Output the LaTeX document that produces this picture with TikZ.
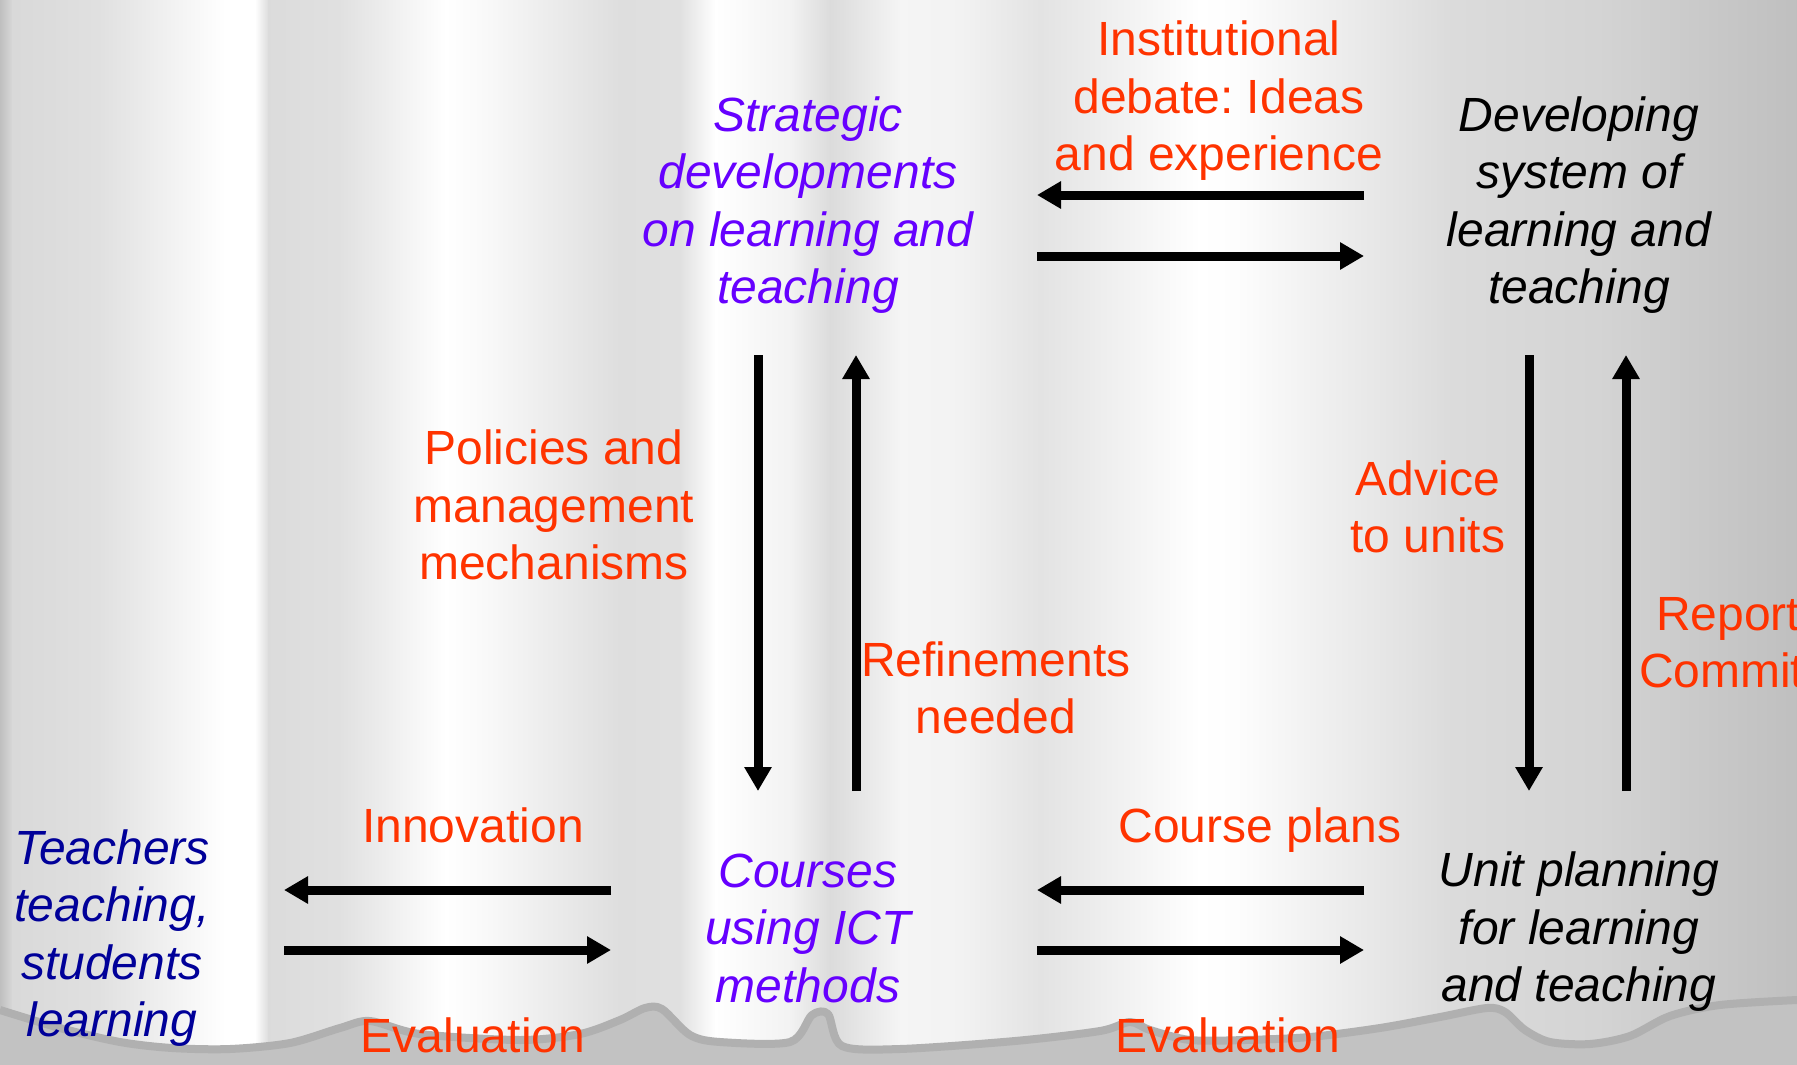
\documentclass[tikz,border=0pt]{standalone}
\usepackage{fontspec}
\setmainfont{Liberation Sans}
\usetikzlibrary{arrows.meta}
\definecolor{lblred}{HTML}{FF3300}
\definecolor{nodepurple}{HTML}{6600FF}
\definecolor{nodenavy}{HTML}{000099}
\definecolor{floorgray}{HTML}{C2C2C2}
\definecolor{flooredge}{HTML}{B0B0B0}
\begin{document}
\frenchspacing
\begin{tikzpicture}[x=1pt,y=-1pt,
  every node/.style={inner sep=0pt, outer sep=0pt, align=center, font=\fontsize{48}{57.5}\selectfont},
  concept/.style={font=\fontsize{48}{57.5}\selectfont\itshape},
  flowlabel/.style={text=lblred},
  flowarrow/.style={line width=9pt, -{Triangle[width=26pt,length=24pt]}}
]
\useasboundingbox (0,0) rectangle (1797,1065);
\clip (0,0) rectangle (1797,1065);
% curtain background
\foreach \xa/\ga/\xb/\gb in {0/75/12/85, 12/85/100/88, 100/88/225/100, 225/100/255/100, 255/100/268/86,
  268/86/340/88, 340/88/445/100, 445/100/480/98, 480/98/620/87, 620/87/680/88, 680/88/715/100,
  715/100/790/95, 790/95/830/86, 830/86/845/88, 845/88/900/96, 900/96/960/95, 960/95/1040/89,
  1040/89/1200/100, 1200/100/1240/99, 1240/99/1450/86, 1450/86/1600/83, 1600/83/1797/75}
  \shade[left color=white!\ga!black, right color=white!\gb!black] (\xa,0) rectangle (\xb+0.8,1065);
% torn floor strip
\fill[floorgray] plot[smooth, tension=0.5] coordinates {(0,1010) (60,1028) (120,1042) (172,1048) (230,1049)
  (290,1043) (340,1028) (370,1021) (420,1034) (520,1040) (580,1034) (620,1020) (645,1008) (662,1009)
  (690,1035) (720,1042) (790,1042) (812,1015) (828,1014) (842,1046) (900,1049) (1015,1041) (1100,1031)
  (1130,1022) (1150,1030) (1190,1040) (1245,1040) (1310,1037) (1380,1028) (1440,1017) (1487,1008)
  (1505,1012) (1525,1030) (1550,1042) (1590,1044) (1630,1036) (1670,1016) (1720,1005) (1797,1000)}
  -- (1797,1065) -- (0,1065) -- cycle;
\draw[flooredge, line width=8pt, line join=round] plot[smooth, tension=0.5] coordinates {(0,1010) (60,1028) (120,1042) (172,1048) (230,1049)
  (290,1043) (340,1028) (370,1021) (420,1034) (520,1040) (580,1034) (620,1020) (645,1008) (662,1009)
  (690,1035) (720,1042) (790,1042) (812,1015) (828,1014) (842,1046) (900,1049) (1015,1041) (1100,1031)
  (1130,1022) (1150,1030) (1190,1040) (1245,1040) (1310,1037) (1380,1028) (1440,1017) (1487,1008)
  (1505,1012) (1525,1030) (1550,1042) (1590,1044) (1630,1036) (1670,1016) (1720,1005) (1797,1000)};
% nodes
\node[concept, text=nodepurple] (strat) at (808,205) {Strategic\\developments\\on learning and\\teaching};
\node[flowlabel] (inst) at (1219,101) {Institutional\\debate: Ideas\\and experience};
\node[concept] (dev) at (1579,205) {Developing\\system of\\learning and\\teaching};
\node[flowlabel] (pol) at (554,505) {Policies and\\management\\mechanisms};
\node[flowlabel] (ref) at (996,688) {Refinements\\needed};
\node[flowlabel] (adv) at (1428,507) {Advice\\to units};
\node[flowlabel, anchor=west] (rep) at (1656,619) {Report};
\node[flowlabel, anchor=west] (com) at (1639,670) {Commit};
\node[concept, text=nodenavy] (teach) at (112,938) {Teachers\\teaching,\\students\\learning};
\node[flowlabel] (innov) at (473,825) {Innovation};
\node[flowlabel] (eval1) at (473,1035) {Evaluation};
\node[concept, text=nodepurple] (course) at (808,928) {Courses\\using ICT\\methods};
\node[flowlabel] (cplan) at (1260,830) {Course plans};
\node[flowlabel] (eval2) at (1228,1035) {Evaluation};
\node[concept] (unit) at (1579,932) {Unit planning\\for learning\\and teaching};
% arrow end points
\coordinate (debR) at (1364,195); \coordinate (debL) at (1037,195);
\coordinate (stR) at (1364,256); \coordinate (stL) at (1037,256);
\coordinate (polT) at (758,355); \coordinate (polB) at (758,791);
\coordinate (refT) at (856,355); \coordinate (refB) at (856,791);
\coordinate (advT) at (1529,355); \coordinate (advB) at (1529,791);
\coordinate (repT) at (1626,355); \coordinate (repB) at (1626,791);
\coordinate (innR) at (611,890); \coordinate (innL) at (284,890);
\coordinate (evR) at (611,950); \coordinate (evL) at (284,950);
\coordinate (cpR) at (1364,890); \coordinate (cpL) at (1037,890);
\coordinate (ev2R) at (1364,950); \coordinate (ev2L) at (1037,950);
% arrows
\draw[flowarrow] (debR) -- (debL);
\draw[flowarrow] (stL) -- (stR);
\draw[flowarrow] (polT) -- (polB);
\draw[flowarrow] (refB) -- (refT);
\draw[flowarrow] (advT) -- (advB);
\draw[flowarrow] (repB) -- (repT);
\draw[flowarrow] (innR) -- (innL);
\draw[flowarrow] (evL) -- (evR);
\draw[flowarrow] (cpR) -- (cpL);
\draw[flowarrow] (ev2L) -- (ev2R);
\end{tikzpicture}
\end{document}
